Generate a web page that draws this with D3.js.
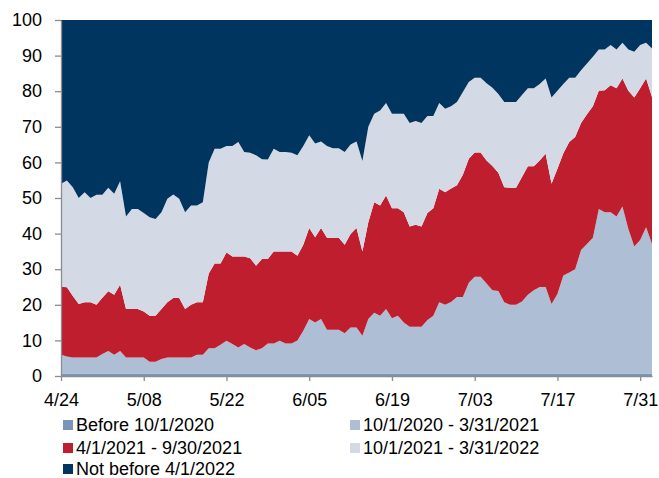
<!DOCTYPE html>
<html>
<head>
<meta charset="utf-8">
<script src="https://cdn.jsdelivr.net/npm/d3@7"></script>
<style>
body { margin: 0; background: #fff; }
svg { display: block; font-family: "Liberation Sans", Arial, sans-serif; }
</style>
</head>
<body>
<svg id="chart"></svg>
<script>
// daily share (%) by expected date of first rate hike, 4/24 - 8/02
var startDate = new Date(2022, 3, 24)
var endDate = new Date(2022, 7, 3)   // exclusive
var tickLabels = ["2022-04-24","2022-05-08","2022-05-22","2022-06-05","2022-06-19","2022-07-03","2022-07-17","2022-07-31"]
var seriesNames = ["Before 10/1/2020", "10/1/2020 - 3/31/2021", "4/1/2021 - 9/30/2021", "10/1/2021 - 3/31/2022", "Not before 4/1/2022"]

var before2020 = [0.7,0.7,0.7,0.7,0.7,0.7,0.7,0.7,0.7,0.7,0.7,0.7,0.7,0.7,0.7,0.7,0.7,0.7,0.7,0.7,
  0.7,0.7,0.7,0.7,0.7,0.7,0.7,0.7,0.7,0.7,0.7,0.7,0.7,0.7,0.7,0.7,0.7,0.7,0.7,0.7,
  0.7,0.7,0.7,0.7,0.7,0.7,0.7,0.7,0.7,0.7,0.7,0.7,0.7,0.7,0.7,0.7,0.7,0.7,0.7,0.7,
  0.7,0.7,0.7,0.7,0.7,0.7,0.7,0.7,0.7,0.7,0.7,0.7,0.7,0.7,0.7,0.7,0.7,0.7,0.7,0.7,
  0.7,0.7,0.7,0.7,0.7,0.7,0.7,0.7,0.7,0.7,0.7,0.7,0.7,0.7,0.7,0.7,0.7,0.7,0.7,0.7,0.7]
var oct20mar21 = [5.3,4.8,4.5,4.5,4.5,4.5,4.5,5.5,6.3,5.3,6.3,4.5,4.5,4.5,4.5,3.3,3.3,4.1,4.5,4.5,
  4.5,4.5,4.5,5.3,5.3,7.1,7.1,8.1,9.2,8.3,7.3,8.3,7.3,6.5,7.1,8.4,8.4,9.2,8.4,8.4,
  9.3,12.0,15.3,14.3,15.3,12.3,12.3,12.3,11.3,12.9,12.9,10.6,15.3,17.1,16.2,18.1,15.5,16.2,14.3,13.1,
  13.1,13.1,15.0,16.2,20.0,19.3,20.1,21.5,21.5,25.5,27.2,27.2,25.3,23.4,23.2,20.0,19.3,19.3,20.2,22.1,
  23.4,24.3,24.3,19.5,22.3,27.5,28.4,29.3,34.7,36.4,38.1,46.2,45.3,45.3,44.1,46.9,40.6,35.7,37.5,41.1,36.4]
var apr21sep21 = [19.1,19.4,17.3,15.0,15.5,15.5,14.8,15.8,16.8,16.8,18.6,13.6,13.6,13.6,12.9,12.9,12.9,14.0,15.5,16.7,
  16.7,13.6,14.8,14.7,14.7,21.0,23.8,22.8,24.8,24.6,25.6,24.6,25.1,23.8,25.1,23.8,25.9,25.1,25.9,25.9,
  23.8,24.2,25.6,24.0,25.6,25.8,25.8,25.8,24.9,26.3,28.0,23.7,27.2,31.0,31.0,31.9,30.9,30.2,31.0,28.2,
  28.7,28.2,30.1,30.2,31.9,31.6,31.9,31.4,34.3,34.8,34.9,34.9,34.5,34.9,33.2,32.3,32.9,32.9,35.0,36.1,
  34.8,35.5,37.4,33.8,35.2,34.4,36.6,37.1,35.7,36.4,37.0,33.2,34.3,35.7,36.0,36.0,38.8,41.8,42.6,41.8,41.3]
var oct21mar22 = [28.9,30.0,30.5,29.8,30.9,29.3,30.9,28.9,29.1,28.4,29.1,26.0,28.1,28.1,27.7,27.7,27.2,27.2,29.1,29.1,
  27.9,27.2,27.9,27.2,28.1,31.2,32.2,32.2,29.9,31.0,32.1,29.3,29.6,31.0,28.0,27.9,28.8,27.9,27.9,27.7,
  28.2,27.7,26.0,26.3,24.3,25.8,25.2,25.2,26.0,25.1,24.3,25.4,26.8,24.9,26.7,26.0,26.6,26.6,27.7,29.1,
  29.1,29.1,27.2,25.9,24.1,23.5,23.1,23.4,23.3,21.6,21.0,21.0,21.7,22.0,22.1,24.0,24.1,24.1,23.0,21.9,
  21.9,21.5,21.2,24.2,21.9,19.4,18.1,16.7,14.8,14.3,13.9,11.6,11.4,11.3,10.9,10.0,11.6,12.9,12.2,10.0,13.6]
var notBefore22 = [46.0,45.1,47.0,50.0,48.4,50.0,49.1,49.1,47.1,48.8,45.3,55.2,53.1,53.1,54.2,55.4,55.9,54.0,50.2,49.0,
  50.2,54.0,52.1,52.1,51.2,40.0,36.2,36.2,35.4,35.4,34.3,37.1,37.3,38.0,39.1,39.2,36.2,37.1,37.1,37.3,
  38.0,35.4,32.4,34.7,34.1,35.4,36.0,36.0,37.1,35.0,34.1,39.6,30.0,26.3,25.4,23.3,26.3,26.3,26.3,28.9,
  28.4,28.9,27.0,27.0,23.3,24.9,24.2,23.0,20.2,17.4,16.2,16.2,17.8,19.0,20.8,23.0,23.0,23.0,21.1,19.2,
  19.2,18.0,16.4,21.8,19.9,18.0,16.2,16.2,14.1,12.2,10.3,8.3,8.3,7.0,8.3,6.4,8.3,8.9,7.0,6.4,8.0]

var colors = ["#7896b7", "#aebfd5", "#be1e2d", "#d3dae6", "#00355f"]

var screen = {width: 659, height: 478}
var margins = {top: 20, right: 7, bottom: 102, left: 61}

var dates = d3.timeDay.range(startDate, endDate)
var allSeries = [before2020, oct20mar21, apr21sep21, oct21mar22, notBefore22]

var rows = dates.map(function(d, i) {
    var row = {date: d}
    seriesNames.forEach(function(name, k) { row[name] = allSeries[k][i] })
    return row
})

var svg = d3.select("#chart")
    .attr("width", screen.width)
    .attr("height", screen.height)

var xScale = d3.scaleTime()
    .domain([dates[0], dates[dates.length - 1]])
    .range([margins.left, screen.width - margins.right])
var yScale = d3.scaleLinear()
    .domain([0, 100])
    .range([screen.height - margins.bottom, margins.top])

var stacked = d3.stack().keys(seriesNames)(rows)

var area = d3.area()
    .x(function(d) { return xScale(d.data.date) })
    .y0(function(d) { return yScale(d[0]) })
    .y1(function(d) { return yScale(d[1]) })

svg.append("g").selectAll("path")
    .data(stacked)
    .enter()
    .append("path")
    .attr("d", area)
    .attr("fill", function(d, i) { return colors[i] })

// axes
var yAxis = d3.axisLeft(yScale)
    .tickValues(d3.range(0, 101, 10))
    .tickSize(6)
    .tickSizeOuter(0)
    .tickPadding(13)
var gy = svg.append("g")
    .attr("transform", "translate(" + margins.left + ",0)")
    .call(yAxis)

var xAxis = d3.axisBottom(xScale)
    .tickValues(tickLabels.map(function(s) { return d3.timeParse("%Y-%m-%d")(s) }))
    .tickFormat(d3.timeFormat("%-m/%d"))
    .tickSize(5)
    .tickSizeOuter(0)
    .tickPadding(12)
var gx = svg.append("g")
    .attr("transform", "translate(0," + (screen.height - margins.bottom) + ")")
    .call(xAxis)

svg.selectAll(".domain, .tick line").attr("stroke", "#8c8c8c").attr("stroke-width", 1.3)
svg.selectAll(".tick text").attr("font-size", 18).attr("font-family", "Liberation Sans, Arial, sans-serif").attr("fill", "#000")

// legend
var legendPos = [
    {x: 63, y: 420}, {x: 350, y: 420},
    {x: 63, y: 443}, {x: 350, y: 443},
    {x: 63, y: 464}
]
var legend = svg.append("g").selectAll(".leg")
    .data(seriesNames)
    .enter()
    .append("g").attr("class", "leg")
    .attr("transform", function(d, i) { return "translate(" + legendPos[i].x + "," + legendPos[i].y + ")" })
legend.append("rect")
    .attr("width", 10).attr("height", 10)
    .attr("fill", function(d, i) { return colors[i] })
legend.append("text")
    .attr("x", 13).attr("y", 11)
    .attr("font-size", 18)
    .text(function(d) { return d })
</script>
</body>
</html>
